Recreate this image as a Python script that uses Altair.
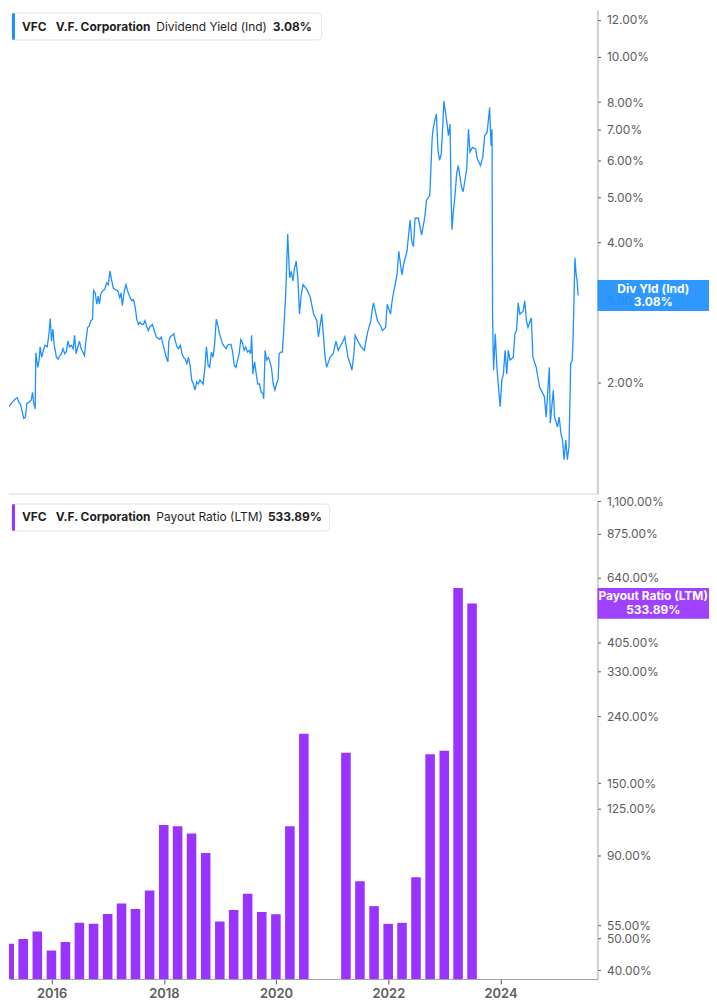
import altair as alt
import pandas as pd

# ---------------- Dividend yield (Ind), % ----------------
yield_years_a = [2015.329, 2015.386, 2015.444, 2015.472, 2015.501, 2015.530, 2015.558, 2015.587, 2015.616, 2015.644,
                 2015.685, 2015.719, 2015.742, 2015.759, 2015.788, 2015.799, 2015.833, 2015.857, 2015.874, 2015.902,
                 2015.931, 2015.960, 2016.000, 2016.029, 2016.052, 2016.074, 2016.098, 2016.120, 2016.160, 2016.189,
                 2016.219, 2016.246, 2016.275, 2016.305, 2016.332, 2016.361, 2016.391, 2016.418, 2016.453, 2016.477,
                 2016.504, 2016.534, 2016.563, 2016.590, 2016.620, 2016.649, 2016.676, 2016.706, 2016.735, 2016.762,
                 2016.792, 2016.809, 2016.838, 2016.866, 2016.890, 2016.912, 2016.935, 2016.964, 2017.003, 2017.038,
                 2017.067, 2017.096, 2017.124, 2017.153, 2017.193, 2017.234, 2017.268, 2017.291, 2017.313, 2017.348,
                 2017.377, 2017.406, 2017.441, 2017.475, 2017.509, 2017.544, 2017.566, 2017.596, 2017.623, 2017.652,
                 2017.682, 2017.709, 2017.738, 2017.768, 2017.795, 2017.842, 2017.881, 2017.910]
yield_values_a = [1.78, 1.82, 1.85, 1.86, 1.82, 1.80, 1.74, 1.68, 1.69, 1.81,
                  1.82, 1.84, 1.91, 1.82, 1.76, 2.32, 2.16, 2.24, 2.39, 2.27,
                  2.35, 2.41, 2.39, 2.55, 2.75, 2.46, 2.61, 2.42, 2.27, 2.25,
                  2.29, 2.31, 2.37, 2.31, 2.33, 2.46, 2.39, 2.41, 2.37, 2.53,
                  2.31, 2.39, 2.46, 2.37, 2.33, 2.29, 2.46, 2.63, 2.65, 2.72,
                  2.74, 3.16, 3.12, 2.95, 3.07, 2.95, 3.10, 3.15, 3.17, 3.28,
                  3.25, 3.48, 3.33, 3.20, 3.17, 3.15, 3.05, 3.12, 2.93, 3.15,
                  3.25, 3.15, 3.07, 3.00, 3.02, 2.88, 2.74, 2.67, 2.70, 2.67,
                  2.67, 2.72, 2.65, 2.59, 2.64, 2.67, 2.57, 2.51]

yield_years_b = [2017.967, 2017.997, 2018.026, 2018.053, 2018.083, 2018.112, 2018.129, 2018.151, 2018.186, 2018.215,
                 2018.243, 2018.272, 2018.301, 2018.329, 2018.358, 2018.387, 2018.415, 2018.444, 2018.473, 2018.501,
                 2018.530, 2018.559, 2018.587, 2018.616, 2018.645, 2018.673, 2018.702, 2018.731, 2018.759, 2018.788,
                 2018.818, 2018.845, 2018.874, 2018.904, 2018.931, 2018.960, 2018.990, 2019.017, 2019.046, 2019.076,
                 2019.103, 2019.133, 2019.162, 2019.189, 2019.219, 2019.248, 2019.275, 2019.305, 2019.334, 2019.361,
                 2019.391, 2019.420, 2019.448, 2019.477, 2019.506, 2019.534, 2019.563, 2019.580, 2019.602, 2019.632,
                 2019.661, 2019.688, 2019.718, 2019.747, 2019.775, 2019.792, 2019.816, 2019.843, 2019.873, 2019.902,
                 2019.929, 2019.959, 2019.988, 2020.016, 2020.045, 2020.062, 2020.091, 2020.119, 2020.148, 2020.177,
                 2020.212, 2020.246, 2020.274, 2020.303, 2020.332, 2020.360, 2020.389, 2020.418, 2020.446, 2020.480]
yield_values_b = [2.48, 2.51, 2.42, 2.35, 2.27, 2.22, 2.46, 2.51, 2.53, 2.55,
                  2.46, 2.39, 2.37, 2.41, 2.31, 2.27, 2.25, 2.20, 2.27, 2.18,
                  2.03, 1.99, 1.93, 2.01, 1.99, 2.03, 2.01, 1.99, 2.15, 2.39,
                  2.18, 2.16, 2.33, 2.27, 2.42, 2.74, 2.65, 2.55, 2.48, 2.42,
                  2.39, 2.37, 2.41, 2.42, 2.42, 2.33, 2.18, 2.16, 2.24, 2.31,
                  2.48, 2.44, 2.35, 2.39, 2.33, 2.35, 2.31, 2.53, 2.09, 2.22,
                  2.09, 1.99, 1.99, 1.91, 1.90, 1.85, 2.35, 2.24, 2.27, 2.22,
                  2.15, 1.99, 1.93, 1.99, 2.04, 2.31, 2.33, 2.33, 2.67, 3.10,
                  4.17, 3.36, 3.47, 3.31, 3.53, 3.65, 3.36, 2.81, 3.07, 3.25]

yield_years_c = [2020.549, 2020.608, 2020.664, 2020.721, 2020.750, 2020.807, 2020.866, 2020.893, 2020.952, 2021.009,
                 2021.055, 2021.095, 2021.181, 2021.210, 2021.267, 2021.306, 2021.336, 2021.370, 2021.392, 2021.439,
                 2021.496, 2021.554, 2021.582, 2021.611, 2021.668, 2021.697, 2021.714, 2021.783, 2021.840, 2021.869,
                 2021.926, 2021.955, 2022.012, 2022.041, 2022.071, 2022.127, 2022.157, 2022.213, 2022.243, 2022.300,
                 2022.329, 2022.356, 2022.386, 2022.415, 2022.442, 2022.501, 2022.558, 2022.614, 2022.644, 2022.701,
                 2022.718, 2022.742, 2022.759, 2022.787, 2022.816, 2022.845, 2022.873, 2022.902, 2022.931, 2022.948,
                 2023.005, 2023.028, 2023.057, 2023.074, 2023.091, 2023.114, 2023.143, 2023.172, 2023.200, 2023.258,
                 2023.286, 2023.349, 2023.379, 2023.406, 2023.448, 2023.504, 2023.534, 2023.590, 2023.630, 2023.664,
                 2023.706, 2023.733, 2023.750, 2023.775, 2023.792]
yield_values_c = [3.17, 3.05, 2.81, 2.72, 2.51, 2.81, 2.27, 2.16, 2.27, 2.31,
                  2.46, 2.35, 2.46, 2.51, 2.27, 2.20, 2.13, 2.31, 2.53, 2.46,
                  2.39, 2.35, 2.46, 2.57, 2.72, 2.90, 2.97, 2.72, 2.65, 2.59,
                  2.63, 2.95, 2.81, 3.00, 3.15, 3.41, 3.83, 3.41, 3.59, 3.83,
                  4.15, 4.47, 4.02, 3.92, 4.51, 4.51, 4.15, 4.54, 4.93, 5.05,
                  5.66, 6.67, 7.00, 7.29, 7.54, 6.30, 6.00, 6.20, 7.24, 8.04,
                  7.18, 6.78, 7.18, 5.05, 4.26, 4.66, 5.05, 5.62, 5.85, 5.26,
                  5.14, 5.76, 7.00, 6.25, 6.40, 6.35, 6.05, 5.85, 6.10, 6.78,
                  6.89, 7.41, 7.79, 6.45, 7.00]

yield_years_d = [2023.802, 2023.819, 2023.849, 2023.878, 2023.905, 2023.935, 2023.964, 2023.992, 2024.021, 2024.050,
                 2024.078, 2024.107, 2024.164, 2024.193, 2024.222, 2024.250, 2024.279, 2024.336, 2024.365, 2024.394,
                 2024.422, 2024.480, 2024.508, 2024.566, 2024.594, 2024.623, 2024.680, 2024.709, 2024.738, 2024.795,
                 2024.812, 2024.864, 2024.886, 2024.938, 2024.967, 2024.997, 2025.024, 2025.053, 2025.083, 2025.110,
                 2025.139, 2025.169, 2025.196, 2025.213, 2025.243, 2025.265, 2025.282, 2025.299]
yield_values_d = [2.76, 2.13, 2.55, 2.16, 1.96, 1.78, 2.03, 2.09, 2.35, 2.09,
                  2.35, 2.24, 2.27, 2.55, 2.59, 2.97, 2.81, 2.85, 3.00, 2.72,
                  2.63, 2.76, 2.27, 2.16, 2.06, 1.96, 1.90, 1.87, 1.69, 2.16,
                  1.64, 1.93, 1.69, 1.61, 1.69, 1.56, 1.51, 1.37, 1.51, 1.37,
                  1.46, 2.20, 2.24, 2.55, 3.71, 3.41, 3.31, 3.08]

# ---------------- Payout ratio (LTM), % — quarterly ----------------
payout_dates = ["2015-03-31", "2015-06-30", "2015-09-30", "2015-12-31",
                "2016-03-31", "2016-06-30", "2016-09-30", "2016-12-31",
                "2017-03-31", "2017-06-30", "2017-09-30", "2017-12-31",
                "2018-03-31", "2018-06-30", "2018-09-30", "2018-12-31",
                "2019-03-31", "2019-06-30", "2019-09-30", "2019-12-31",
                "2020-03-31", "2020-06-30",
                "2021-03-31", "2021-06-30", "2021-09-30", "2021-12-31",
                "2022-03-31", "2022-06-30", "2022-09-30", "2022-12-31",
                "2023-03-31", "2023-06-30"]
payout_values = [48.2, 49.9, 52.6, 46.0,
                 48.8, 55.9, 55.5, 59.5,
                 64.1, 61.6, 70.2, 111.6,
                 110.6, 105.1, 91.6, 56.4,
                 61.2, 68.7, 60.3, 59.4,
                 110.6, 212.7,
                 186.0, 75.0, 62.9, 55.5,
                 55.9, 77.1, 183.8, 188.6,
                 595.0, 533.89]

# axis tick labels
yield_ticks = [2, 3, 4, 5, 6, 7, 8, 10, 12]
payout_ticks = [40, 50, 55, 90, 125, 150, 240, 330, 405, 640, 875, 1100]
year_ticks = [2016, 2018, 2020, 2022, 2024]

current_yield = 3.08
current_payout = 533.89

Y1_MIN, Y1_MAX = 1.156, 12.6
Y2_MIN, Y2_MAX = 37.6, 1108


def to_date(t):
    y = int(t)
    start = pd.Timestamp(year=y, month=1, day=1)
    end = pd.Timestamp(year=y + 1, month=1, day=1)
    return (start + (end - start) * (t - y)).strftime("%Y-%m-%dT%H:%M:%S")


all_years = yield_years_a + yield_years_b + yield_years_c + yield_years_d
all_vals = yield_values_a + yield_values_b + yield_values_c + yield_values_d
yield_df = pd.DataFrame({"date": [to_date(t) for t in all_years], "yield": all_vals})
payout_df = pd.DataFrame({"date": [d + "T00:00:00" for d in payout_dates], "ratio": payout_values})

# ---------------- styling ----------------
W, H1, H2 = 591, 486, 481
BOX_W = 112
BLUE = "#1E90FF"
PURPLE = "#9933FF"
FONT = "Inter"
LABEL = "#5c5c5c"
# value-tag shape: a 112 x 31 px rectangle (unit square is scaled to BOX_W)
TAG_SHAPE = "M-1,-0.277L1,-0.277L1,0.277L-1,0.277Z"

x_scale = alt.Scale(domain=[alt.DateTime(year=2015, month=5, date=1),
                            alt.DateTime(year=2025, month=8, date=22)])
y1_scale = alt.Scale(type="log", domain=[Y1_MIN, Y1_MAX], nice=False)
y2_scale = alt.Scale(type="log", domain=[Y2_MIN, Y2_MAX], nice=False)

y1_axis = alt.Axis(orient="right", values=yield_ticks, title=None, grid=False,
                   labelExpr="format(datum.value, ',.2f') + '%'", labelFontSize=12,
                   tickSize=3, labelPadding=6, labelOverlap=False)
y2_axis = alt.Axis(orient="right", values=payout_ticks, title=None, grid=False,
                   labelExpr="format(datum.value, ',.2f') + '%'", labelFontSize=12,
                   tickSize=3, labelPadding=6, labelOverlap=False)
x_axis = alt.Axis(values=[alt.DateTime(year=y, month=1, date=1) for y in year_ticks],
                  format="%Y", title=None, grid=False, labelFontSize=13, labelFontWeight=600,
                  tickSize=5, labelPadding=4, labelFlush=False)

one = pd.DataFrame({"k": [0]})


def header(label, color, value_text, value_x, right_edge, ty):
    box = alt.Chart(one).mark_rect(fill="white", stroke="#e2e2e2", strokeWidth=1, cornerRadius=4).encode(
        x=alt.value(3), x2=alt.value(right_edge), y=alt.value(ty - 13.5), y2=alt.value(ty + 13.5))
    bar = alt.Chart(one).mark_rect(fill=color, cornerRadius=1.5).encode(
        x=alt.value(3), x2=alt.value(6), y=alt.value(ty - 13.5), y2=alt.value(ty + 13.5))
    common = dict(font=FONT, fontSize=12, color="#1f1f1f", align="left", baseline="middle")
    t1 = alt.Chart(one).mark_text(text="VFC", fontWeight="bold", **common).encode(
        x=alt.value(13), y=alt.value(ty))
    t2 = alt.Chart(one).mark_text(text="V.F. Corporation", fontWeight="bold", **common).encode(
        x=alt.value(47), y=alt.value(ty))
    t3 = alt.Chart(one).mark_text(text=label, fontWeight="normal", **common).encode(
        x=alt.value(148), y=alt.value(ty))
    t4 = alt.Chart(one).mark_text(text=value_text, fontWeight="bold", **common).encode(
        x=alt.value(value_x), y=alt.value(ty))
    return [box, bar, t1, t2, t3, t4]


def value_tag(df, field, scale, axis, color, line1, line2):
    ych = alt.Y(f"{field}:Q", scale=scale, axis=axis)
    box = alt.Chart(df).mark_point(shape=TAG_SHAPE, filled=True, color=color, opacity=0.93,
                                   strokeWidth=0, size=BOX_W * BOX_W).encode(
        y=ych, x=alt.value(W + BOX_W / 2))
    ta = alt.Chart(df).mark_text(text=line1, color="white", font=FONT, fontSize=12,
                                 fontWeight="bold", align="center", baseline="middle", dy=-7).encode(
        y=ych, x=alt.value(W + BOX_W / 2))
    tb = alt.Chart(df).mark_text(text=line2, color="white", font=FONT, fontSize=12,
                                 fontWeight="bold", align="center", baseline="middle", dy=7).encode(
        y=ych, x=alt.value(W + BOX_W / 2))
    return [box, ta, tb]


# ---------------- top panel: dividend yield ----------------
line = alt.Chart(yield_df).mark_line(color=BLUE, strokeWidth=1.3, clip=True).encode(
    x=alt.X("date:T", scale=x_scale, axis=None),
    y=alt.Y("yield:Q", scale=y1_scale, axis=y1_axis),
)
cur1 = pd.DataFrame({"yield": [current_yield]})
sep = alt.Chart(one).mark_rule(color="#d8d8d8", strokeWidth=1).encode(
    x=alt.value(0), x2=alt.value(W), y=alt.value(H1))

top = alt.layer(sep, line,
                *value_tag(cur1, "yield", y1_scale, y1_axis, BLUE, "Div Yld (Ind)", "3.08%"),
                *header("Dividend Yield (Ind)", BLUE, "3.08%", 265, 314, 16.5)).properties(width=W, height=H1)

# ---------------- bottom panel: payout ratio ----------------
bars = alt.Chart(payout_df).mark_bar(color=PURPLE, width=9.6, clip=True).encode(
    x=alt.X("date:T", scale=x_scale, axis=x_axis),
    y=alt.Y("ratio:Q", scale=y2_scale, axis=y2_axis),
    y2=alt.datum(Y2_MIN),
)
cur2 = pd.DataFrame({"ratio": [current_payout]})

bottom = alt.layer(bars,
                   *value_tag(cur2, "ratio", y2_scale, y2_axis, PURPLE, "Payout Ratio (LTM)", "533.89%"),
                   *header("Payout Ratio (LTM)", PURPLE, "533.89%", 260, 322, 17.5)).properties(width=W, height=H2)

chart = alt.vconcat(top, bottom, spacing=0).properties(padding=0).configure_view(
    stroke=None
).configure_axis(
    labelFont=FONT, labelColor=LABEL, domainColor="#a0a0a0", tickColor="#555555", domainWidth=1
)

chart.save("out.html", embed_options={"renderer": "svg", "actions": False})
